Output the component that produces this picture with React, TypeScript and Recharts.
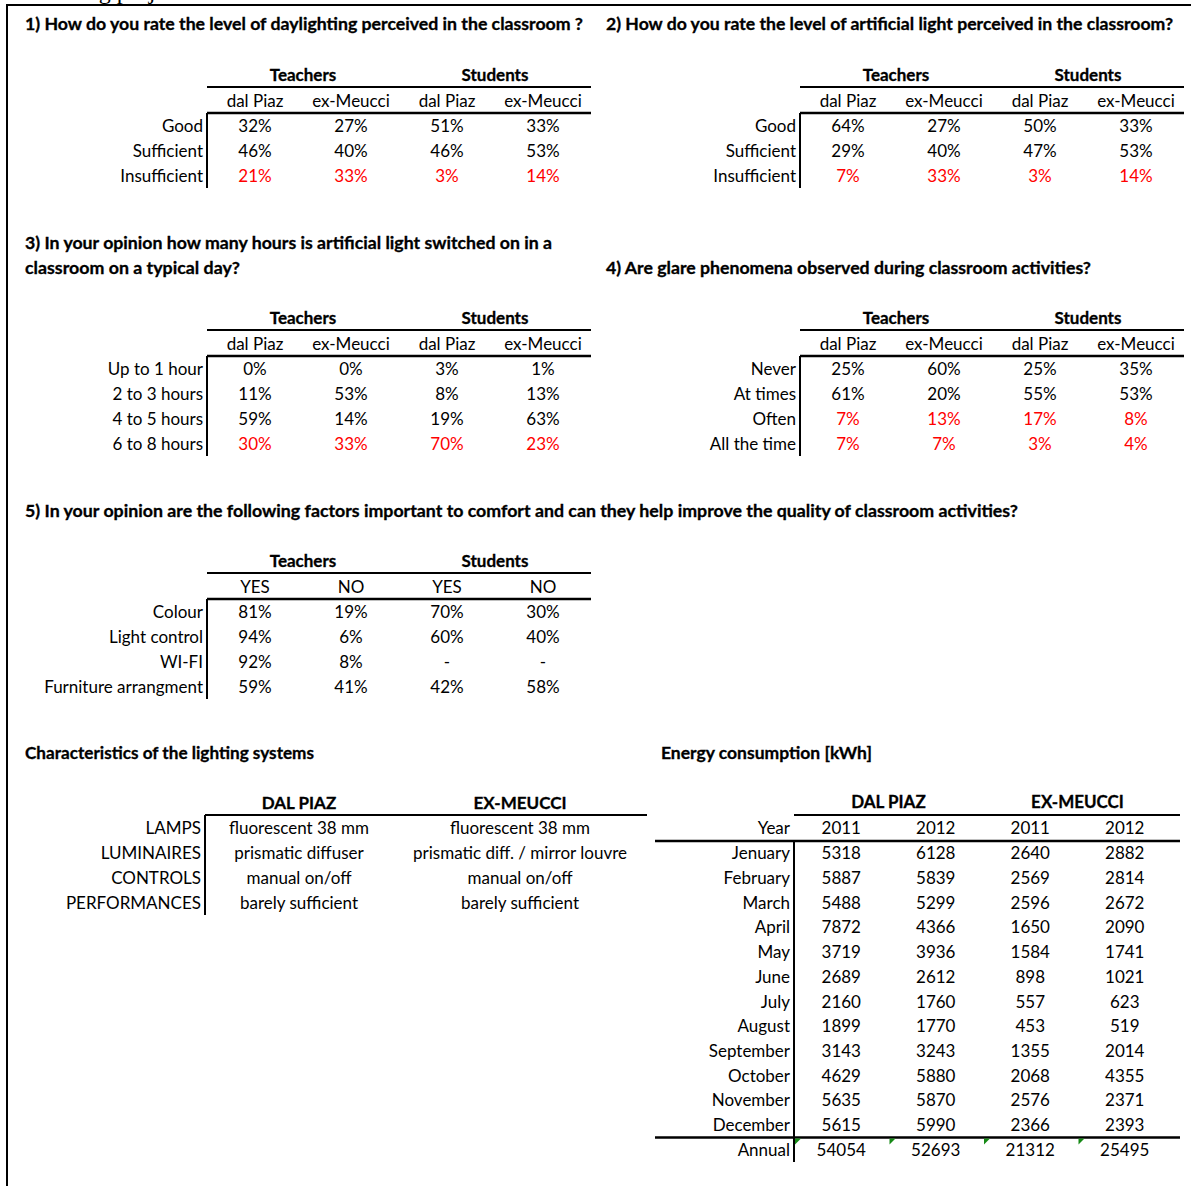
import React from 'react'
import { ReferenceLine, Scatter, ScatterChart, XAxis, YAxis } from 'recharts'

const FONT = 'Lato, "Noto Sans", sans-serif'
const RED = '#ff0000'

const respondentGroups = ['Teachers', 'Students']
const schoolCols = ['dal Piaz', 'ex-Meucci', 'dal Piaz', 'ex-Meucci']
const answerCols = ['YES', 'NO', 'YES', 'NO']

// 1) daylighting
const q1Rows = ['Good', 'Sufficient', 'Insufficient']
const q1Values = [
  [32, 27, 51, 33],
  [46, 40, 46, 53],
  [21, 33, 3, 14],
]

// 2) artificial light
const q2Rows = ['Good', 'Sufficient', 'Insufficient']
const q2Values = [
  [64, 27, 50, 33],
  [29, 40, 47, 53],
  [7, 33, 3, 14],
]

// 3) hours of artificial light
const q3Rows = ['Up to 1 hour', '2 to 3 hours', '4 to 5 hours', '6 to 8 hours']
const q3Values = [
  [0, 0, 3, 1],
  [11, 53, 8, 13],
  [59, 14, 19, 63],
  [30, 33, 70, 23],
]

// 4) glare
const q4Rows = ['Never', 'At times', 'Often', 'All the time']
const q4Values = [
  [25, 60, 25, 35],
  [61, 20, 55, 53],
  [7, 13, 17, 8],
  [7, 7, 3, 4],
]

// 5) comfort factors
const q5Rows = ['Colour', 'Light control', 'WI-FI', 'Furniture arrangment']
const q5Values = [
  [81, 19, 70, 30],
  [94, 6, 60, 40],
  [92, 8, null, null],
  [59, 41, 42, 58],
]

// lighting systems
const lightingRows = ['LAMPS', 'LUMINAIRES', 'CONTROLS', 'PERFORMANCES']
const lightingCols = ['DAL PIAZ', 'EX-MEUCCI']
const dalPiazLighting = ['fluorescent 38 mm', 'prismatic diffuser', 'manual on/off', 'barely sufficient']
const exMeucciLighting = ['fluorescent 38 mm', 'prismatic diff. / mirror louvre', 'manual on/off', 'barely sufficient']

// energy consumption [kWh]
const energyGroups = ['DAL PIAZ', 'EX-MEUCCI']
const energyYears = ['2011', '2012', '2011', '2012']
const months = [
  'Jenuary', 'February', 'March', 'April', 'May', 'June', 'July',
  'August', 'September', 'October', 'November', 'December', 'Annual',
]
const dalPiaz2011 = [5318, 5887, 5488, 7872, 3719, 2689, 2160, 1899, 3143, 4629, 5635, 5615, 54054]
const dalPiaz2012 = [6128, 5839, 5299, 4366, 3936, 2612, 1760, 1770, 3243, 5880, 5870, 5990, 52693]
const exMeucci2011 = [2640, 2569, 2596, 1650, 1584, 898, 557, 453, 1355, 2068, 2576, 2366, 21312]
const exMeucci2012 = [2882, 2814, 2672, 2090, 1741, 1021, 623, 519, 2014, 4355, 2371, 2393, 25495]

const pct = (rows: (number | null)[][]) => rows.map((r) => r.map((v) => (v == null ? '-' : `${v}%`)))

// heavier bold, closer to the Calibri bold of the sheet
const bold = { fontWeight: 700, stroke: '#000', strokeWidth: 0.3 }

type Cell = { x: number; y: number; c: number; text: string; red: boolean; flag: boolean }

type TableProps = {
  left: number
  top: number
  span: number
  colW: number[]
  rowH: number
  labelW: number
  cols: string[]
  groups?: string[]
  rows: string[]
  cells: string[][]
  redFrom?: number
  boldCols?: boolean
  flagRow?: number
  corner?: string
  rules?: { y: number; from: number }[]
}

function Table({
  left, top, span, colW, rowH, labelW, cols, groups, rows, cells,
  redFrom = 99, boldCols = false, flagRow = -1, corner, rules,
}: TableProps) {
  const centers: number[] = []
  let acc = 0
  colW.forEach((w) => {
    centers.push(acc + w / 2)
    acc += w
  })
  const groupCenters = groups ? groups.map((_, g) => (centers[2 * g] + centers[2 * g + 1]) / 2) : []
  const headH = groups ? 52 : 26
  const width = labelW + span + 12
  const height = headH + rows.length * rowH + 12

  const data: Cell[] = []
  cells.forEach((row, r) =>
    row.forEach((text, c) =>
      data.push({ x: centers[c], y: r, c, text, red: r >= redFrom, flag: r === flagRow }),
    ),
  )
  const groupData = groupCenters.map((x) => ({ x, y: 0 }))

  const colTick = (p: any) => (
    <g>
      <text x={p.x} y={p.y - 6.5} textAnchor="middle" fill="#000" {...(boldCols ? bold : {})}>
        {cols[p.index]}
      </text>
      {corner && p.index === 0 ? (
        <text x={p.x - p.payload.value - 4} y={p.y - 6.5} textAnchor="end" fill="#000">
          {corner}
        </text>
      ) : null}
    </g>
  )
  const groupTick = (p: any) => (
    <text x={p.x} y={p.y - 6.5} textAnchor="middle" fill="#000" {...bold}>
      {groups ? groups[p.index] : ''}
    </text>
  )
  const rowTick = (p: any) => (
    <text x={p.x} y={p.y + 6} textAnchor="end" fill="#000">
      {rows[p.payload.value]}
    </text>
  )
  const cellShape = (p: any) => {
    const d = p.payload as Cell
    const x0 = p.cx - colW[d.c] / 2 + 1
    const y0 = p.cy - rowH / 2 + 1
    return (
      <g>
        {d.flag ? <polygon points={`${x0},${y0} ${x0 + 6},${y0} ${x0},${y0 + 6}`} fill="#168a16" /> : null}
        <text x={p.cx} y={p.cy + 6} textAnchor="middle" fill={d.red ? RED : '#000'}>
          {d.text}
        </text>
      </g>
    )
  }

  return (
    <div style={{ position: 'absolute', left: left - labelW, top: top - headH }}>
      <ScatterChart width={width} height={height} margin={{ top: 0, right: 12, bottom: 12, left: 0 }}>
        <XAxis
          xAxisId="c"
          dataKey="x"
          orientation="top"
          type="number"
          domain={[0, span]}
          allowDataOverflow
          ticks={centers}
          interval={0}
          height={26}
          tickSize={0}
          tickMargin={0}
          tickLine={false}
          axisLine={rules ? false : { stroke: '#000', strokeWidth: groups ? 2.5 : 2 }}
          tick={colTick}
        />
        {groups ? (
          <XAxis
            xAxisId="g"
            dataKey="x"
            orientation="top"
            type="number"
            domain={[0, span]}
            allowDataOverflow
            ticks={groupCenters}
            interval={0}
            height={26}
            tickSize={0}
            tickMargin={0}
            tickLine={false}
            axisLine={{ stroke: '#000', strokeWidth: 2 }}
            tick={groupTick}
          />
        ) : null}
        <YAxis
          yAxisId="r"
          dataKey="y"
          type="number"
          reversed
          domain={[-0.5, rows.length - 0.5]}
          allowDataOverflow
          ticks={rows.map((_, i) => i)}
          interval={0}
          width={labelW}
          tickSize={0}
          tickMargin={4}
          tickLine={false}
          axisLine={{ stroke: '#000', strokeWidth: 2 }}
          tick={rowTick}
        />
        {(rules ?? []).map((r, i) => (
          <ReferenceLine
            key={i}
            xAxisId="c"
            yAxisId="r"
            segment={[{ x: r.from, y: r.y }, { x: span, y: r.y }]}
            stroke="#000"
            strokeWidth={2.5}
            ifOverflow="visible"
          />
        ))}
        {groups ? (
          <Scatter xAxisId="g" yAxisId="r" data={groupData} shape={() => <g />} isAnimationActive={false} />
        ) : null}
        <Scatter xAxisId="c" yAxisId="r" data={data} shape={cellShape} isAnimationActive={false} />
      </ScatterChart>
    </div>
  )
}

const titles = [
  { x: 25, y: 30, w: 558, text: '1) How do you rate the level of daylighting perceived in the classroom ?' },
  { x: 606, y: 30, w: 567, text: '2) How do you rate the level of artificial light perceived in the classroom?' },
  { x: 25, y: 249, w: 527, text: '3) In your opinion how many hours is artificial light switched on in a' },
  { x: 25, y: 274, w: 215, text: 'classroom on a typical day?' },
  { x: 606, y: 274, w: 485, text: '4) Are glare phenomena observed during classroom activities?' },
  {
    x: 25, y: 517, w: 993,
    text: '5) In your opinion are the following factors important to comfort and can they help improve the quality of classroom activities?',
  },
  { x: 25, y: 759, w: 289, text: 'Characteristics of the lighting systems' },
  { x: 661, y: 759, w: 211, text: 'Energy consumption [kWh]' },
]

export default function App() {
  const quad = [96, 96, 96, 96]
  const energyCells = months.map((_, i) =>
    [dalPiaz2011[i], dalPiaz2012[i], exMeucci2011[i], exMeucci2012[i]].map(String),
  )
  const lightingCells = lightingRows.map((_, i) => [dalPiazLighting[i], exMeucciLighting[i]])

  return (
    <div
      style={{
        position: 'relative',
        width: 1194,
        height: 1186,
        overflow: 'hidden',
        background: '#fff',
        fontFamily: FONT,
        fontSize: 17,
        color: '#000',
      }}
    >
      <style>{'body{margin:0}'}</style>

      <Table left={207} top={112.5} span={384} colW={quad} rowH={25} labelW={200}
        cols={schoolCols} groups={respondentGroups} rows={q1Rows} cells={pct(q1Values)} redFrom={2} />
      <Table left={800} top={112.5} span={384} colW={quad} rowH={25} labelW={200}
        cols={schoolCols} groups={respondentGroups} rows={q2Rows} cells={pct(q2Values)} redFrom={2} />
      <Table left={207} top={356} span={384} colW={quad} rowH={25} labelW={200}
        cols={schoolCols} groups={respondentGroups} rows={q3Rows} cells={pct(q3Values)} redFrom={3} />
      <Table left={800} top={356} span={384} colW={quad} rowH={25} labelW={200}
        cols={schoolCols} groups={respondentGroups} rows={q4Rows} cells={pct(q4Values)} redFrom={2} />
      <Table left={207} top={599} span={384} colW={quad} rowH={25} labelW={200}
        cols={answerCols} groups={respondentGroups} rows={q5Rows} cells={pct(q5Values)} />
      <Table left={205} top={815} span={442} colW={[188, 254]} rowH={25} labelW={200}
        cols={lightingCols} rows={lightingRows} cells={lightingCells} boldCols />
      <Table left={794} top={840.5} span={386} colW={[94.5, 94.5, 94.5, 94.5]} rowH={24.7} labelW={150}
        cols={energyYears} groups={energyGroups} rows={months} cells={energyCells}
        flagRow={12} corner="Year" rules={[{ y: -0.5, from: -139 }, { y: 11.5, from: -139 }]} />

      <svg width={1194} height={1186} style={{ position: 'absolute', left: 0, top: 0, pointerEvents: 'none' }}>
        <text x={80} y={-1} fontFamily='"Liberation Serif", serif' fontSize={24} fill="#000">
          ing project
        </text>
        <line x1={6} y1={5} x2={1191} y2={5} stroke="#000" strokeWidth={2} />
        <line x1={7} y1={4} x2={7} y2={1186} stroke="#000" strokeWidth={2} />
        {titles.map((t) => (
          <text key={t.text} x={t.x} y={t.y} textLength={t.w} lengthAdjust="spacingAndGlyphs"
            fontSize={17} fill="#000" {...bold}>
            {t.text}
          </text>
        ))}
      </svg>
    </div>
  )
}
